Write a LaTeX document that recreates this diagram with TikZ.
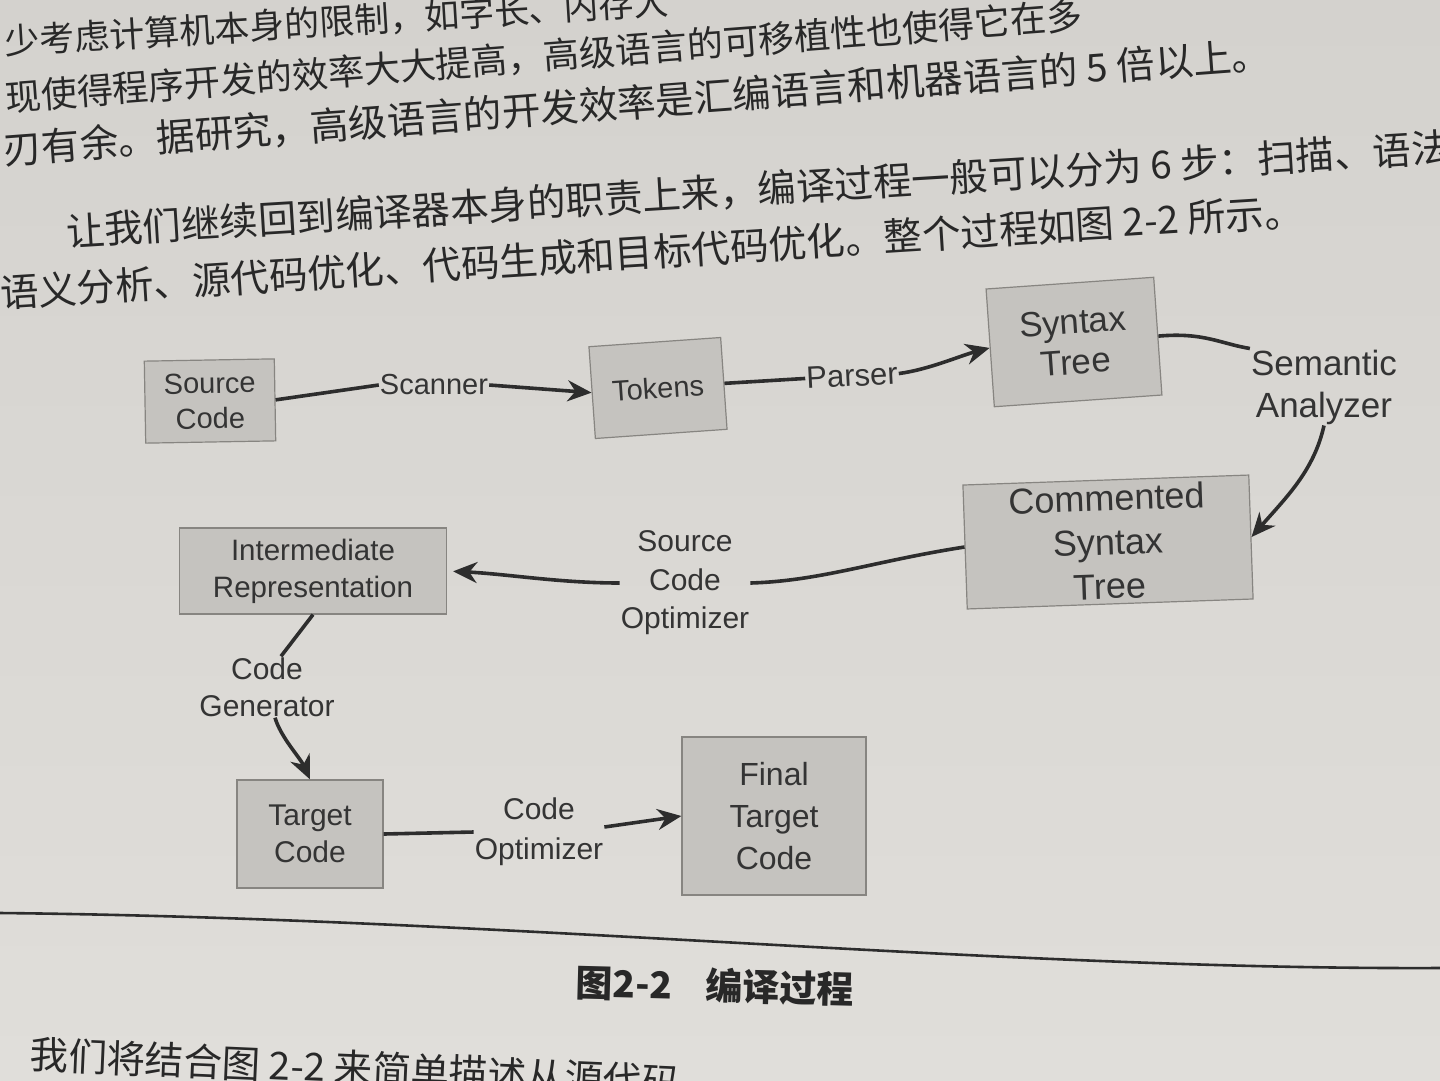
\documentclass[tikz,border=0pt]{standalone}
\usepackage{fontspec}
\setmainfont{Liberation Sans}
\newfontfamily\cjk{Noto Sans CJK SC}
\usetikzlibrary{arrows.meta}
\newcommand{\fsz}[2]{\fontsize{#1}{#2}\selectfont}
\definecolor{papertop}{RGB}{212,210,206}
\definecolor{paperbot}{RGB}{224,222,218}
\definecolor{boxfill}{RGB}{197,195,191}
\definecolor{boxline}{RGB}{135,133,129}
\definecolor{ink}{RGB}{52,52,52}
\definecolor{bookink}{RGB}{40,40,40}
\definecolor{wire}{RGB}{45,45,45}
\tikzset{
  box/.style={draw=boxline, fill=boxfill, line width=1.2pt, align=center, text=ink, inner sep=0pt},
  lbl/.style={align=center, text=ink, inner sep=1pt},
  ln/.style={draw=wire, line width=3.6pt},
  arr/.style={-{Stealth[length=24pt,width=21pt]}},
  bookline/.style={anchor=west, inner sep=0pt, text=bookink, font=\cjk\fsz{38.5}{42}},
}
\begin{document}
\begin{tikzpicture}[x=1pt,y=-1pt]
\path[use as bounding box] (0,0) rectangle (1440,1080);
\begin{scope}
\clip (0,0) rectangle (1440,1080);
\fill[top color=papertop, bottom color=paperbot] (0,0) rectangle (1440,1080);

% book text above the figure
\node[bookline, rotate=3.5, font=\cjk\fsz{35}{40}] (tA) at (5,42) {少考虑计算机本身的限制，如字长、内存大};
\node[bookline, rotate=4.4, font=\cjk\fsz{36}{40}] (tB) at (5,98) {现使得程序开发的效率大大提高，高级语言的可移植性也使得它在多};
\node[bookline, rotate=4.3] (tC) at (3,150) {刃有余。据研究，高级语言的开发效率是汇编语言和机器语言的 5 倍以上。};
\node[bookline, rotate=3.5] (tD) at (66,232) {让我们继续回到编译器本身的职责上来，编译过程一般可以分为 6 步：扫描、语法};
\node[bookline, rotate=3.6] (tE) at (0,293) {语义分析、源代码优化、代码生成和目标代码优化。整个过程如图 2-2 所示。};

% boxes
\node[box, minimum width=130pt, minimum height=82pt, rotate=1, font=\fsz{29}{35}] (src) at (210,401) {Source\\Code};
\node[box, minimum width=132pt, minimum height=92pt, rotate=4, font=\fsz{29}{35}] (tok) at (658,388) {Tokens};
\node[box, minimum width=168pt, minimum height=118pt, rotate=4, font=\fsz{35}{40}] (syn) at (1074,342) {Syntax\\Tree};
\node[box, minimum width=286pt, minimum height=124pt, rotate=2, font=\fsz{36}{44}] (com) at (1108,542) {Commented\\Syntax\\Tree};
\node[box, minimum width=267pt, minimum height=86pt, font=\fsz{29.5}{37}] (ir) at (313,571) {Intermediate\\Representation};
\node[box, minimum width=146pt, minimum height=108pt, font=\fsz{30}{37}] (tc) at (310,834) {Target\\Code};
\node[box, minimum width=184pt, minimum height=158pt, font=\fsz{32}{42}] (ftc) at (774,816) {Final\\Target\\Code};

% edge labels
\node[lbl, font=\fsz{29}{35}] (scan) at (434,385) {Scanner};
\node[lbl, rotate=3, font=\fsz{31}{36}] (pars) at (852,376) {Parser};
\node[lbl, font=\fsz{35}{42}] (sem) at (1324,387) {Semantic\\Analyzer};
\node[lbl, font=\fsz{30}{38.5}] (sco) at (685,583) {Source\\Code\\Optimizer};
\node[lbl, font=\fsz{30}{37}] (cg) at (267,687) {Code\\Generator};
\node[lbl, font=\fsz{30}{40}] (co) at (539,832) {Code\\Optimizer};

% connectors
\draw[ln] (src.east) -- (scan.west);
\draw[ln, arr] (scan.east) -- (tok.west);
\draw[ln] (tok.east) -- (pars.west);
\draw[ln, arr] (pars.east) .. controls +(30,-4) and +(-30,8) .. (syn.west);
\draw[ln] (syn.east) .. controls +(45,-4) and +(-30,-5) .. (sem.north west);
\draw[ln, arr] (sem.south) .. controls +(-10,45) and +(35,-40) .. (com.east);
\draw[ln] (com.west) .. controls +(-90,14) and +(70,-2) .. (sco.east);
\draw[ln, arr, shorten >=6pt] (sco.west) .. controls +(-60,0) and +(60,3) .. (ir.east);
\draw[ln] (ir.south) -- ([xshift=14pt]cg.north);
\draw[ln, arr] ([xshift=8pt]cg.south) .. controls +(6,20) and +(-10,-22) .. (tc.north);
\draw[ln] (tc.east) -- (co.west);
\draw[ln, arr] ([yshift=5pt]co.east) -- (ftc.west);

% rule and caption
\draw[draw=wire, line width=2.6pt] (0,913) .. controls (500,918) and (1000,970) .. (1440,968);
\node[anchor=west, inner sep=0pt, text=bookink, rotate=-1.5, font=\cjk\bfseries\fsz{37}{40}] (cap) at (576,982) {图2-2\hspace{0.9em}编译过程};

% book text below
\node[bookline, rotate=-2.5] (tF) at (30,1054) {我们将结合图 2-2 来简单描述从源代码};
\end{scope}
\end{tikzpicture}
\end{document}
